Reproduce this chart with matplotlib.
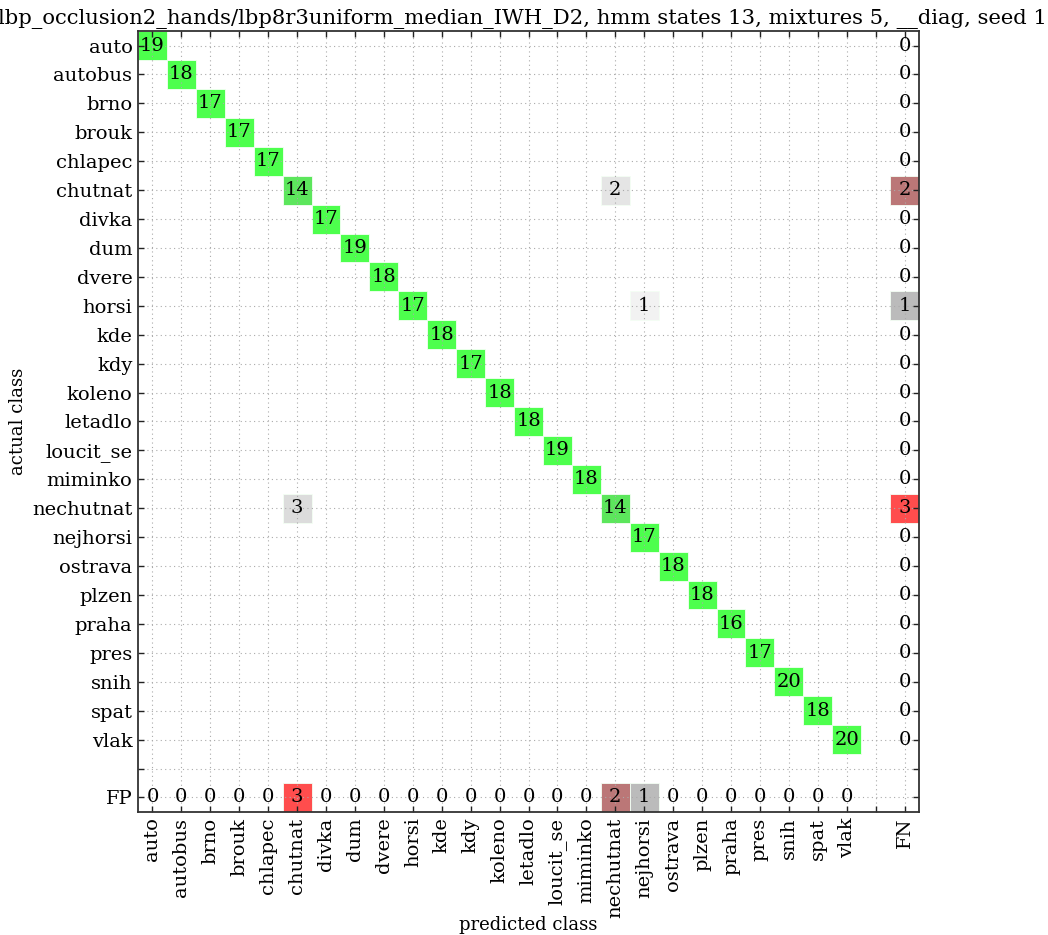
import numpy as np
import matplotlib
matplotlib.use("Agg")
import matplotlib.pyplot as plt
from matplotlib.patches import Rectangle

classes = ["auto", "autobus", "brno", "brouk", "chlapec", "chutnat", "divka",
           "dum", "dvere", "horsi", "kde", "kdy", "koleno", "letadlo",
           "loucit_se", "miminko", "nechutnat", "nejhorsi", "ostrava",
           "plzen", "praha", "pres", "snih", "spat", "vlak"]
correct = [19, 18, 17, 17, 17, 14, 17, 19, 18, 17, 18, 17, 18, 18, 19, 18,
           14, 17, 18, 18, 16, 17, 20, 18, 20]
# confusions: (actual, predicted, count)
errors = [("chutnat", "nechutnat", 2),
          ("horsi", "nejhorsi", 1),
          ("nechutnat", "chutnat", 3)]

title = ("lbp_occlusion2_hands/lbp8r3uniform_median_IWH_D2, hmm states 13, "
         "mixtures 5, __diag, seed 1")

n = len(classes)
cm = np.zeros((n, n), dtype=int)
for i, v in enumerate(correct):
    cm[i, i] = v
for a, p, c in errors:
    cm[classes.index(a), classes.index(p)] = c
fn = cm.sum(axis=1) - np.diag(cm)
fp = cm.sum(axis=0) - np.diag(cm)
recall = np.diag(cm) / cm.sum(axis=1)

plt.rcParams["font.family"] = ["DejaVu Serif"]
fig = plt.figure(figsize=(10.48, 9.35), dpi=100)
ax = fig.add_axes([0.1317, 0.1316, 0.7452, 0.8352])

fs = 14
pos = n + 1  # index of FP row / FN column (one spacer between)

def err_color(k):
    return {1: "#bbbbbb", 2: "#bb7777"}.get(k, "#ff4d4d")

def off_color(k):
    return {1: "#f2f2f2", 2: "#e5e5e5"}.get(k, "#dcdcdc")

def cell(x, y, color):
    ax.add_patch(Rectangle((x - 0.5, y - 0.5), 1, 1, facecolor=color,
                           edgecolor="#f4fff4", linewidth=0.6, zorder=1))

for i in range(n):
    for j in range(n):
        v = cm[i, j]
        if v == 0:
            continue
        if i == j:
            col = "#4dff4d" if recall[i] >= 0.9 else "#5ce65c"
        else:
            col = off_color(v)
        cell(j, i, col)
        ax.text(j, i, str(v), ha="center", va="center", fontsize=fs, zorder=3)

for i in range(n):
    if fn[i] > 0:
        cell(pos, i, err_color(fn[i]))
    ax.text(pos, i, str(fn[i]), ha="center", va="center", fontsize=fs, zorder=3)
for j in range(n):
    if fp[j] > 0:
        cell(j, pos, err_color(fp[j]))
    ax.text(j, pos, str(fp[j]), ha="center", va="center", fontsize=fs, zorder=3)

ax.set_xlim(-0.5, pos + 0.5)
ax.set_ylim(pos + 0.5, -0.5)

ticks = list(range(pos + 1))
ax.set_xticks(ticks)
ax.set_yticks(ticks)
ax.set_xticklabels(classes + ["", "FN"], rotation=90, fontsize=fs)
ax.set_yticklabels(classes + ["", "FP"], fontsize=fs)
ax.tick_params(direction="in", length=4, width=1, top=True, right=True,
               labeltop=False, labelright=False, pad=4, color="#222222")
ax.grid(True, linestyle=(0, (1, 3)), color="#aaaaaa", linewidth=0.8,
        zorder=2)
ax.set_axisbelow(False)
for s in ax.spines.values():
    s.set_linewidth(1.3)
    s.set_color("#333333")
    s.set_zorder(4)

fig.text(0.504, 0.0107, "predicted class", fontsize=13,
         ha="center", va="center")
fig.text(0.0172, 0.5497, "actual class", fontsize=13, rotation=90,
         ha="center", va="center")
fig.text(0.4985, 0.9745, title, fontsize=15.2, ha="center", va="baseline")

fig.savefig("out.png", dpi=100)
